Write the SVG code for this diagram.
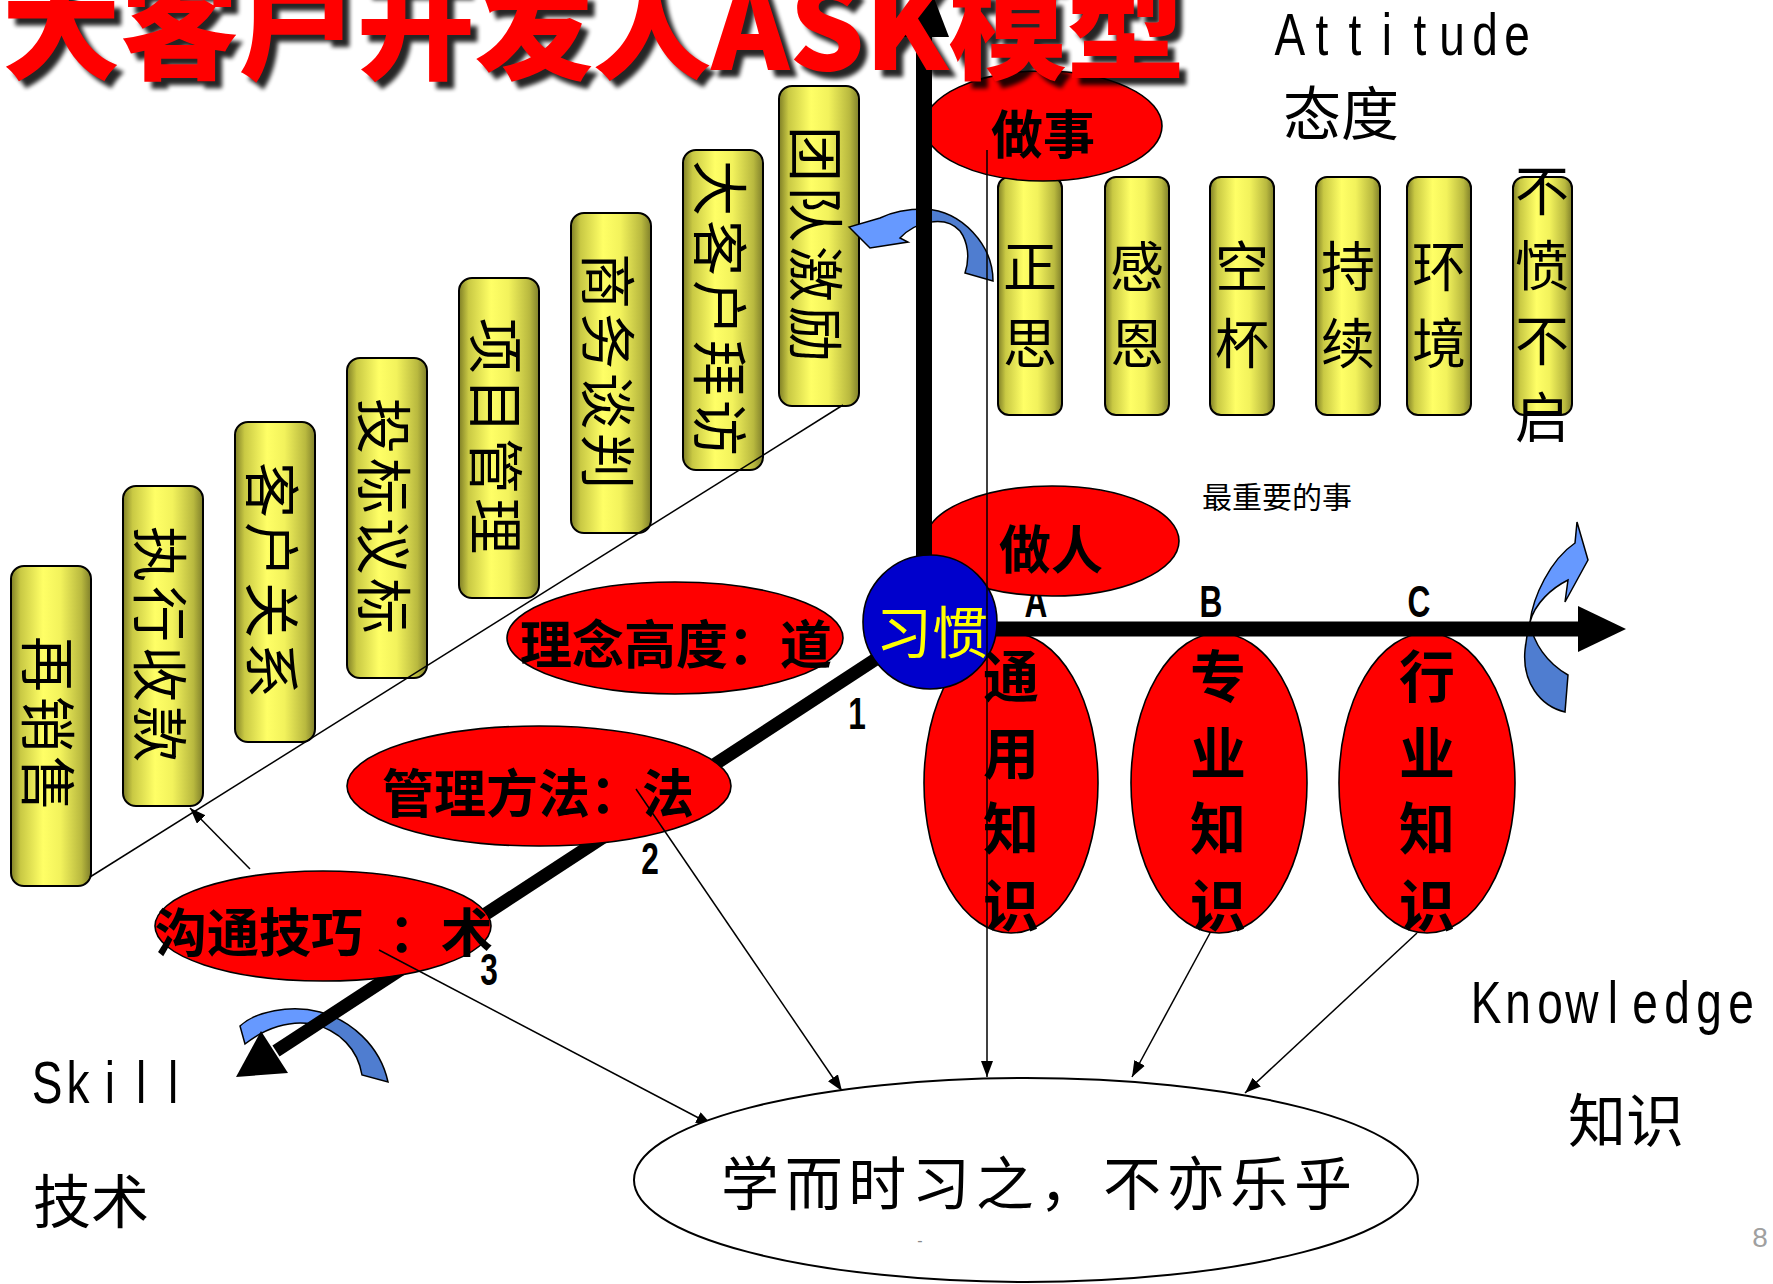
<svg xmlns="http://www.w3.org/2000/svg" width="1773" height="1284" viewBox="0 0 1773 1284">
<defs>
<linearGradient id="gCol" x1="0" y1="0" x2="1" y2="0">
<stop offset="0" stop-color="#7F7F26"/>
<stop offset="0.12" stop-color="#C9C944"/>
<stop offset="0.4" stop-color="#FFFF66"/>
<stop offset="0.62" stop-color="#F2F25C"/>
<stop offset="0.88" stop-color="#B9B93F"/>
<stop offset="1" stop-color="#80802A"/>
</linearGradient>
<linearGradient id="gBlueTop" gradientUnits="userSpaceOnUse" x1="0" y1="0" x2="1773" y2="0">
<stop offset="0.5245" stop-color="#6699FF"/>
<stop offset="0.5245" stop-color="#4F7DD0"/>
</linearGradient>
<linearGradient id="gBlueRight" gradientUnits="userSpaceOnUse" x1="0" y1="0" x2="0" y2="1284">
<stop offset="0.485" stop-color="#6699FF"/>
<stop offset="0.485" stop-color="#4F7DD0"/>
</linearGradient>
<linearGradient id="gBlueBot" gradientUnits="userSpaceOnUse" x1="0" y1="0" x2="1773" y2="0">
<stop offset="0.1805" stop-color="#6699FF"/>
<stop offset="0.1805" stop-color="#4F7DD0"/>
</linearGradient>
<marker id="arr" markerUnits="userSpaceOnUse" markerWidth="18" markerHeight="14" refX="16" refY="6" orient="auto">
<path d="M0,0 L16,6 L0,12 Z" fill="#000"/>
</marker>
<filter id="blur" x="-5%" y="-20%" width="110%" height="140%">
<feGaussianBlur stdDeviation="2"/>
</filter>
</defs>
<style>
.col{fill:url(#gCol);stroke:#000;stroke-width:2}
.red{fill:#FF0000;stroke:#000;stroke-width:1.6}
.cjk{font-family:"Noto Sans CJK SC","Noto Sans CJK JP",sans-serif}
.ct{font-family:"Noto Sans CJK SC",sans-serif;font-size:56px;letter-spacing:4px;text-anchor:middle;dominant-baseline:central;fill:#000}
.at{font-family:"Noto Sans CJK SC",sans-serif;font-size:54px;text-anchor:middle;dominant-baseline:central;fill:#000}
.rt{font-family:"Noto Sans CJK SC",sans-serif;font-size:52px;font-weight:700;dominant-baseline:central;fill:#000}
.kt{font-family:"Noto Sans CJK SC",sans-serif;font-size:56px;font-weight:700;text-anchor:middle;dominant-baseline:central;fill:#000}
.lab{font-family:"Noto Sans CJK SC",sans-serif;font-size:58px;dominant-baseline:central;fill:#000}
.lat{font-family:"Liberation Sans",Arial,sans-serif;font-size:59px;text-anchor:middle;fill:#000}
.num{font-family:"Liberation Sans",Arial,sans-serif;font-size:44px;font-weight:700;text-anchor:middle;fill:#000}
.thin{stroke:#000;stroke-width:1.5;fill:none}
.conn{stroke:#000;stroke-width:1.5;fill:none;marker-end:url(#arr)}
.blue{stroke:#000;stroke-width:1.5}
</style>
<rect width="1773" height="1284" fill="#FFFFFF"/>

<!-- Skill staircase columns -->
<g id="col-zaixiaoshou"><rect class="col" x="11" y="566" width="80" height="320" rx="13"/><text class="ct" transform="translate(51,726) rotate(90)">再销售</text></g>
<g id="col-zhixingshoukuan"><rect class="col" x="123" y="486" width="80" height="320" rx="13"/><text class="ct" transform="translate(163,646) rotate(90)">执行收款</text></g>
<g id="col-kehuguanxi"><rect class="col" x="235" y="422" width="80" height="320" rx="13"/><text class="ct" transform="translate(275,582) rotate(90)">客户关系</text></g>
<g id="col-toubiaoyibiao"><rect class="col" x="347" y="358" width="80" height="320" rx="13"/><text class="ct" transform="translate(387,518) rotate(90)">投标议标</text></g>
<g id="col-xiangmuguanli"><rect class="col" x="459" y="278" width="80" height="320" rx="13"/><text class="ct" transform="translate(499,438) rotate(90)">项目管理</text></g>
<g id="col-shangwutanpan"><rect class="col" x="571" y="213" width="80" height="320" rx="13"/><text class="ct" transform="translate(611,373) rotate(90)">商务谈判</text></g>
<g id="col-dakehubaifang"><rect class="col" x="683" y="150" width="80" height="320" rx="13"/><text class="ct" transform="translate(723,310) rotate(90)">大客户拜访</text></g>
<g id="col-tuanduijili"><rect class="col" x="779" y="86" width="80" height="320" rx="13"/><text class="ct" transform="translate(819,246) rotate(90)">团队激励</text></g>

<!-- Attitude columns -->
<g id="col-zhengsi"><rect class="col" x="998" y="177" width="64" height="238" rx="11"/><text class="at" x="1030 1030" y="263 340">正思</text></g>
<g id="col-ganen"><rect class="col" x="1105" y="177" width="64" height="238" rx="11"/><text class="at" x="1137 1137" y="263 340">感恩</text></g>
<g id="col-kongbei"><rect class="col" x="1210" y="177" width="64" height="238" rx="11"/><text class="at" x="1242 1242" y="263 340">空杯</text></g>
<g id="col-chixu"><rect class="col" x="1316" y="177" width="64" height="238" rx="11"/><text class="at" x="1348 1348" y="263 340">持续</text></g>
<g id="col-huanjing"><rect class="col" x="1407" y="177" width="64" height="238" rx="11"/><text class="at" x="1439 1439" y="263 340">环境</text></g>
<g id="col-bufenbuqi"><rect class="col" x="1513" y="177" width="59" height="238" rx="11"/><text class="at" x="1542 1542 1542 1542" y="187 262 337 414">不愤不启</text></g>

<!-- axis labels A B C (A partly behind 做人) -->
<g id="abc">
<text class="num" transform="translate(1036,617) scale(0.72,1)">A</text>
<text class="num" transform="translate(1211,617) scale(0.72,1)">B</text>
<text class="num" transform="translate(1419,617) scale(0.72,1)">C</text>
</g>

<!-- red ellipses attitude / knowledge -->
<g id="node-zuoshi"><ellipse class="red" cx="1043" cy="126" rx="119" ry="55"/></g>
<g id="node-zuoren"><ellipse class="red" cx="1052" cy="541" rx="127" ry="55"/></g>
<g id="node-tongyong"><ellipse class="red" cx="1011" cy="783" rx="87" ry="150"/></g>
<g id="node-zhuanye"><ellipse class="red" cx="1219" cy="783" rx="88" ry="150"/></g>
<g id="node-hangye"><ellipse class="red" cx="1427" cy="783" rx="88" ry="150"/></g>

<!-- blue curved arrows -->
<g id="curved-arrows">
<path class="blue" fill="url(#gBlueTop)" d="M849,227 L870,248 L908,242 L900,238 C915,222 945,214 960,231 C968,242 970,258 965,273 L993,281 C993,245 962,211 925,209 C905,209 890,213 880,218 Z"/>
<path class="blue" fill="url(#gBlueRight)" d="M1577,522 L1588,560 L1565,602 L1568,580 C1552,588 1535,603 1530,622 C1533,643 1547,663 1568,675 L1565,712 C1540,706 1522,682 1525,650 C1526,640 1528,630 1530,622 C1533,597 1550,560 1575,543 Z"/>
<path class="blue" fill="url(#gBlueBot)" d="M240,1026 C255,1012 290,1004 320,1012 C350,1020 380,1045 388,1082 L362,1075 C358,1050 340,1030 312,1024 C290,1020 265,1028 245,1044 Z"/>
</g>

<!-- axes -->
<g id="axes">
<line x1="924" y1="624" x2="924" y2="34" stroke="#000" stroke-width="16"/>
<polygon points="899,37 924,-28 949,37" fill="#000"/>
<line x1="930" y1="629" x2="1580" y2="629" stroke="#000" stroke-width="15"/>
<polygon points="1578,606 1626,629 1578,652" fill="#000"/>
<line x1="925" y1="627" x2="276" y2="1051" stroke="#000" stroke-width="13"/>
<polygon points="236,1077 288,1073 261,1031" fill="#000"/>
</g>

<!-- skill ellipses -->
<g id="node-linian"><ellipse class="red" cx="675" cy="638" rx="168" ry="56"/><text class="rt" x="520" y="641">理念高度：道</text></g>
<g id="node-guanli"><ellipse class="red" cx="539" cy="786" rx="192" ry="60"/><text class="rt" x="382" y="790">管理方法：法</text></g>
<g id="node-goutong"><ellipse class="red" cx="323" cy="926" rx="168" ry="55"/><text class="rt" x="155" y="929">沟通技巧 <tspan dx="14">：术</tspan></text></g>

<!-- habit circle -->
<g id="node-xiguan"><circle cx="930" cy="622" r="67" fill="#0000CC" stroke="#000" stroke-width="1.6"/><text class="cjk" x="876" y="628" font-size="56" fill="#FFFF00" dominant-baseline="central">习惯</text></g>

<!-- texts on attitude/knowledge ellipses -->
<g id="labels-red">
<text class="rt" x="991" y="131">做事</text>
<text class="rt" x="999" y="546">做人</text>
<text class="kt" x="1011 1011 1011 1011" y="672 749 824 901">通用知识</text>
<text class="kt" x="1218 1218 1218 1218" y="672 749 824 901">专业知识</text>
<text class="kt" x="1427 1427 1427 1427" y="672 749 824 901">行业知识</text>
</g>

<!-- numbers on skill axis -->
<g id="nums">
<text class="num" transform="translate(857,729) scale(0.72,1)">1</text>
<text class="num" transform="translate(650,874) scale(0.72,1)">2</text>
<text class="num" transform="translate(489,985) scale(0.72,1)">3</text>
</g>

<!-- connectors -->
<g id="connectors">
<line class="thin" x1="843" y1="405" x2="90" y2="877"/>
<line class="conn" x1="250" y1="869" x2="190" y2="808"/>
<line class="conn" x1="987" y1="150" x2="987" y2="1077"/>
<line class="conn" x1="1210" y1="933" x2="1132" y2="1077"/>
<line class="conn" x1="1417" y1="933" x2="1245" y2="1093"/>
<line class="conn" x1="636" y1="789" x2="842" y2="1091"/>
<line class="conn" x1="379" y1="950" x2="712" y2="1125"/>
</g>

<!-- bottom ellipse -->
<g id="node-xueer"><ellipse cx="1026" cy="1180" rx="392" ry="102" fill="#FFFFFF" stroke="#000" stroke-width="2"/><text class="lab" x="721" y="1180" textLength="631" lengthAdjust="spacing">学而时习之，不亦乐乎</text></g>

<!-- side labels -->
<g id="side-labels">
<text class="lat" transform="translate(0,55) scale(0.78,1)" x="1653.8 1694.9 1737.2 1778.2 1820.5 1861.5 1903.8 1944.9" y="0">Attitude</text>
<text class="lab" x="1283" y="110">态度</text>
<text class="cjk" x="1202" y="495" font-size="30" dominant-baseline="central">最重要的事</text>
<text class="lat" transform="translate(0,1103) scale(0.78,1)" x="60.3 100 141 180.8 221.8" y="0">Skill</text>
<text class="lab" x="33" y="1198">技术</text>
<text class="lat" transform="translate(0,1023) scale(0.78,1)" x="1905.1 1946.2 1987.2 2028.2 2067.9 2109 2150 2191 2232.1" y="0">Knowledge</text>
<text class="lab" x="1568" y="1117">知识</text>
<text x="920" y="1246" font-family="Liberation Sans, sans-serif" font-size="16" fill="#888888" text-anchor="middle">-</text>
<text x="1760" y="1247" font-family="Liberation Sans, sans-serif" font-size="28" fill="#A0A0A0" text-anchor="middle">8</text>
</g>

<!-- title -->
<g id="title">
<text class="cjk" x="9" y="77" font-size="116" font-weight="900" fill="#000" opacity="0.85" filter="url(#blur)" textLength="1183" lengthAdjust="spacingAndGlyphs">大客户开发人ASK模型</text>
<text class="cjk" x="2" y="70" font-size="116" font-weight="900" fill="#FF0000" textLength="1183" lengthAdjust="spacingAndGlyphs">大客户开发人ASK模型</text>
</g>
</svg>
